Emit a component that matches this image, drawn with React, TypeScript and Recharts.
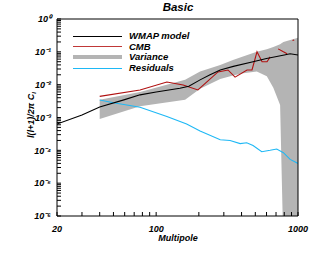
import { Area, ComposedChart, Line, XAxis, YAxis } from "recharts";

const modelL = [20, 30, 40, 60, 77, 100, 147, 170, 204, 240, 283, 350, 482, 600, 708, 800, 880, 1000];
const modelCl = [6.3e-4, 1.2e-3, 2.1e-3, 3.5e-3, 4.9e-3, 6e-3, 7.8e-3, 9e-3, 1.4e-2, 2e-2, 2.8e-2, 3.6e-2, 5e-2, 6.3e-2, 7.2e-2, 8e-2, 8.7e-2, 8e-2];

const cmbL = [40, 77, 119, 155, 197, 273, 321, 360, 437, 474, 514, 558, 605, 636, 670, 724, 789, 838, 880, 915, 940];
const cmbCl = [4.4e-3, 6.9e-3, 1.2e-2, 9.8e-3, 6.9e-3, 2.45e-2, 2.8e-2, 1.7e-2, 2.8e-2, 2.8e-2, 0.1, 5e-2, 5e-2, 7e-2, null, 0.123, 0.1, 8.8e-2, null, 0.22, 0.23];

const varL = [40, 77, 160, 204, 283, 348, 400, 512, 603, 670, 748, 789, 1000];
const varLow = [9e-4, 2.2e-3, 3.5e-3, 7.5e-3, 1.5e-2, 1.9e-2, 2.2e-2, 2.5e-2, 1.8e-2, 8e-3, 2.4e-3, 1e-7, 1e-7];
const varHigh = [3.5e-3, 6e-3, 1.4e-2, 2.5e-2, 4e-2, 5.6e-2, 7e-2, 0.1, 0.12, 0.14, 0.17, 0.2, 0.27];

const resL = [40, 50, 77, 119, 164, 204, 283, 332, 391, 435, 482, 555, 636, 708, 789, 880, 1000];
const resCl = [3.4e-3, 2.8e-3, 2.05e-3, 1.07e-3, 6.3e-4, 3.9e-4, 2.1e-4, 2e-4, 1.6e-4, 1.7e-4, 1.4e-4, 9.1e-5, 1e-4, 1.1e-4, 8.5e-5, 5.3e-5, 4e-5];

const xMajor = [20, 100, 1000];
const xTicks = [20, 30, 40, 50, 60, 70, 80, 90, 100, 200, 300, 400, 500, 600, 700, 800, 900, 1000];
const yExp = [-6, -5, -4, -3, -2, -1, 0];
const yTicks = yExp.flatMap((e) =>
  e === 0 ? [1] : [1, 2, 3, 4, 5, 6, 7, 8, 9].map((k) => Number((k * Math.pow(10, e)).toPrecision(3)))
);

const legendItems = [
  { name: "WMAP model", color: "#000000", width: 1 },
  { name: "CMB", color: "#c03838", width: 1 },
  { name: "Variance", color: "#b4b4b4", width: 4 },
  { name: "Residuals", color: "#1eb8f5", width: 1 },
];

const model = modelL.map((l, i) => ({ l, v: modelCl[i] }));
const cmb = cmbL.map((l, i) => ({ l, v: cmbCl[i] }));
const variance = varL.map((l, i) => ({ l, r: [varLow[i], varHigh[i]] }));
const residuals = resL.map((l, i) => ({ l, v: resCl[i] }));

const sup: Record<string, string> = { "0": "⁰", "1": "¹", "2": "²", "3": "³", "4": "⁴", "5": "⁵", "6": "⁶", "-": "⁻" };
const isMajorY = (v: number) => yExp.some((e) => Math.abs(v - Math.pow(10, e)) < Math.pow(10, e) * 1e-6);
const fmtY = (v: number) => {
  if (!isMajorY(v)) return "";
  const e = String(Math.round(Math.log10(v)));
  return "10" + e.split("").map((c) => sup[c]).join("");
};
const fmtX = (v: number) => (xMajor.includes(v) ? String(v) : "");
const blank = () => "";

const tickText = { fill: "#000", fontSize: 9 };
const axisLine = { stroke: "#000" };
const tickLine = { stroke: "#000" };

export default function App() {
  return (
    <div
      style={{
        position: "absolute",
        left: 0,
        top: 0,
        width: 316,
        height: 253,
        background: "#fff",
        fontFamily: "'Liberation Sans', Arial, sans-serif",
        fontWeight: "bold",
        fontStyle: "italic",
        color: "#000",
      }}
    >
      <ComposedChart width={316} height={253} margin={{ top: 18, right: 17, bottom: 0, left: 0 }}>
        {/* negative tick size turns the ticks inward, like the IDL box */}
        <XAxis
          dataKey="l"
          type="number"
          scale="log"
          domain={[20, 1000]}
          allowDataOverflow
          ticks={xTicks}
          interval={0}
          height={37}
          tickSize={-4}
          tickMargin={14}
          tickFormatter={fmtX}
          tick={tickText}
          tickLine={tickLine}
          axisLine={axisLine}
        />
        <XAxis
          xAxisId="top"
          orientation="top"
          type="number"
          scale="log"
          domain={[20, 1000]}
          ticks={xTicks}
          interval={0}
          height={1}
          tickSize={-4}
          tickFormatter={blank}
          tick={tickText}
          tickLine={tickLine}
          axisLine={axisLine}
        />
        <YAxis
          type="number"
          scale="log"
          domain={[1e-6, 1]}
          allowDataOverflow
          ticks={yTicks}
          interval={0}
          width={57}
          tickSize={-4}
          tickMargin={10}
          tickFormatter={fmtY}
          tick={tickText}
          tickLine={tickLine}
          axisLine={axisLine}
        />
        <YAxis
          yAxisId="right"
          orientation="right"
          type="number"
          scale="log"
          domain={[1e-6, 1]}
          ticks={yTicks}
          interval={0}
          width={1}
          tickSize={-4}
          tickFormatter={blank}
          tick={tickText}
          tickLine={tickLine}
          axisLine={axisLine}
        />
        <Area data={variance} dataKey="r" type="linear" stroke="none" fill="#b4b4b4" fillOpacity={1} isAnimationActive={false} />
        <Line data={residuals} dataKey="v" type="linear" stroke="#1eb8f5" strokeWidth={1.1} dot={false} isAnimationActive={false} />
        <Line data={cmb} dataKey="v" type="linear" stroke="#b01010" strokeWidth={1.1} dot={false} connectNulls={false} isAnimationActive={false} />
        <Line data={model} dataKey="v" type="linear" stroke="#000" strokeWidth={1.1} dot={false} isAnimationActive={false} />
      </ComposedChart>

      {/* legend */}
      {legendItems.map((it, i) => {
        const cy = 36 + i * 10.7;
        return (
          <div key={it.name}>
            <div style={{ position: "absolute", left: 73, top: cy - it.width / 2, width: 49, height: it.width, background: it.color }} />
            <div style={{ position: "absolute", left: 129, top: cy - 6, fontSize: 9.5, lineHeight: "12px", whiteSpace: "nowrap" }}>{it.name}</div>
          </div>
        );
      })}

      <div style={{ position: "absolute", left: 0, width: 356, top: 1, textAlign: "center", fontSize: 11.5, lineHeight: "13px" }}>Basic</div>
      <div style={{ position: "absolute", left: 0, width: 356, top: 233, textAlign: "center", fontSize: 9, lineHeight: "11px" }}>Multipole</div>
      <div
        style={{
          position: "absolute",
          left: 31 - 50,
          top: 115 - 6,
          width: 100,
          height: 12,
          textAlign: "center",
          fontSize: 9,
          lineHeight: "12px",
          whiteSpace: "nowrap",
          transform: "rotate(-90deg)",
        }}
      >
        l(l+1)/2π C<sub style={{ fontSize: 6, verticalAlign: "-2px" }}>l</sub>
      </div>
    </div>
  );
}
